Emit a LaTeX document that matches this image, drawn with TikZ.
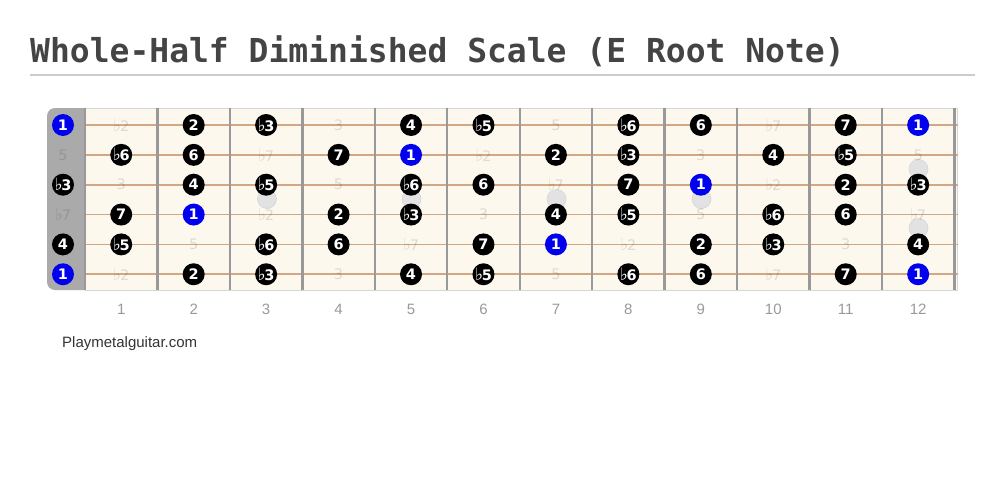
\documentclass[tikz,border=0pt]{standalone}
\usepackage{fontspec}
\setmainfont{Liberation Sans}
\newfontfamily\titlefam{DejaVu Sans Mono}
\newfontfamily\dvfam{DejaVu Sans}
\definecolor{titlegray}{HTML}{444444}
\definecolor{rulegray}{HTML}{CCCCCC}
\definecolor{boardcream}{HTML}{FDF8EE}
\definecolor{nutgray}{HTML}{AAAAAA}
\definecolor{stringtan}{HTML}{D2A784}
\definecolor{fretgray}{HTML}{999999}
\definecolor{inlaygray}{HTML}{E2E2E2}
\definecolor{inlayedge}{HTML}{D6D6D6}
\definecolor{rootblue}{HTML}{0000EE}
\definecolor{numgray}{HTML}{999999}
\definecolor{sitegray}{HTML}{333333}
\newcommand\fl{{\fontsize{17}{17}\selectfont ♭}\kern-1.2pt}
\tikzset{
  nt/.style={circle, fill=black, minimum size=22pt, inner sep=0pt, text=white,
    font=\dvfam\bfseries\fontsize{14.5}{14.5}\selectfont},
  rt/.style={nt, fill=rootblue},
  gh/.style={inner sep=0pt, text=black, text opacity=0.12, font=\dvfam\fontsize{14.5}{14.5}\selectfont},
  inlay/.style={circle, fill=inlaygray, draw=inlayedge, line width=0.6pt, minimum size=19pt, inner sep=0pt},
  fretline/.style={draw=fretgray, line width=2.4pt},
  stringline/.style={draw=stringtan, line width=1.8pt},
  fretnum/.style={text=numgray, font=\fontsize{15}{15}\selectfont},
}
\newcommand\stringnotes[3]{%
  \foreach \lab/\sty [count=\c from 0] in #3 {%
    \pgfmathsetmacro\xx{\c==0 ? 63 : 85+(\c-0.5)*72.45}%
    \node[\sty] (s#1f\c) at (\xx,#2) {\lab};%
  }%
}
\def\Elist{1/rt,\fl 2/gh,2/nt,\fl 3/nt,3/gh,4/nt,\fl 5/nt,5/gh,\fl 6/nt,6/nt,\fl 7/gh,7/nt,1/rt}
\def\Blist{5/gh,\fl 6/nt,6/nt,\fl 7/gh,7/nt,1/rt,\fl 2/gh,2/nt,\fl 3/nt,3/gh,4/nt,\fl 5/nt,5/gh}
\def\Glist{\fl 3/nt,3/gh,4/nt,\fl 5/nt,5/gh,\fl 6/nt,6/nt,\fl 7/gh,7/nt,1/rt,\fl 2/gh,2/nt,\fl 3/nt}
\def\Dlist{\fl 7/gh,7/nt,1/rt,\fl 2/gh,2/nt,\fl 3/nt,3/gh,4/nt,\fl 5/nt,5/gh,\fl 6/nt,6/nt,\fl 7/gh}
\def\Alist{4/nt,\fl 5/nt,5/gh,\fl 6/nt,6/nt,\fl 7/gh,7/nt,1/rt,\fl 2/gh,2/nt,\fl 3/nt,3/gh,4/nt}
\begin{document}
\begin{tikzpicture}[x=1pt,y=-1pt]
\useasboundingbox (0,0) rectangle (1005,488);
% title
\node[anchor=base west, inner sep=0pt, text=titlegray, font=\titlefam\bfseries\fontsize{33}{33}\selectfont] (title) at (30,62) {Whole-Half Diminished Scale (E Root Note)};
\draw[rulegray, line width=1.6pt] (30,75) -- (975,75);
% board
\fill[nutgray, rounded corners=8pt] (47,108) rectangle (100,290);
\fill[boardcream] (85,108) rectangle (958,290);
\draw[inlayedge, line width=0.8pt] (85,108) -- (958,108);
\draw[inlayedge, line width=0.8pt] (85,290) -- (958,290);
\draw[inlayedge, line width=1pt] (957.5,108) -- (957.5,290);
% strings
\foreach \s in {0,...,5} {
  \draw[stringline] (85,125+\s*29.85) -- (958,125+\s*29.85);
}
% frets
\foreach \k in {0,...,12} {
  \draw[fretline] (85+\k*72.45,108) -- (85+\k*72.45,290);
}
% inlays
\node[inlay] (in3) at (267,199) {};
\node[inlay] (in5) at (411.5,199) {};
\node[inlay] (in7) at (556.5,199) {};
\node[inlay] (in9) at (701.5,199) {};
\node[inlay] (in12a) at (918.5,169) {};
\node[inlay] (in12b) at (918.5,228) {};
% notes
\stringnotes{1}{125}{\Elist}
\stringnotes{2}{154.85}{\Blist}
\stringnotes{3}{184.7}{\Glist}
\stringnotes{4}{214.55}{\Dlist}
\stringnotes{5}{244.4}{\Alist}
\stringnotes{6}{274.25}{\Elist}
% fret numbers
\foreach \k in {1,...,12} {
  \node[fretnum] (num\k) at (85+\k*72.45-36.2,309) {\k};
}
\node[anchor=west, inner sep=0pt, text=sitegray, font=\fontsize{15}{15}\selectfont] (site) at (62,344) {Playmetalguitar.com};
\end{tikzpicture}
\end{document}
